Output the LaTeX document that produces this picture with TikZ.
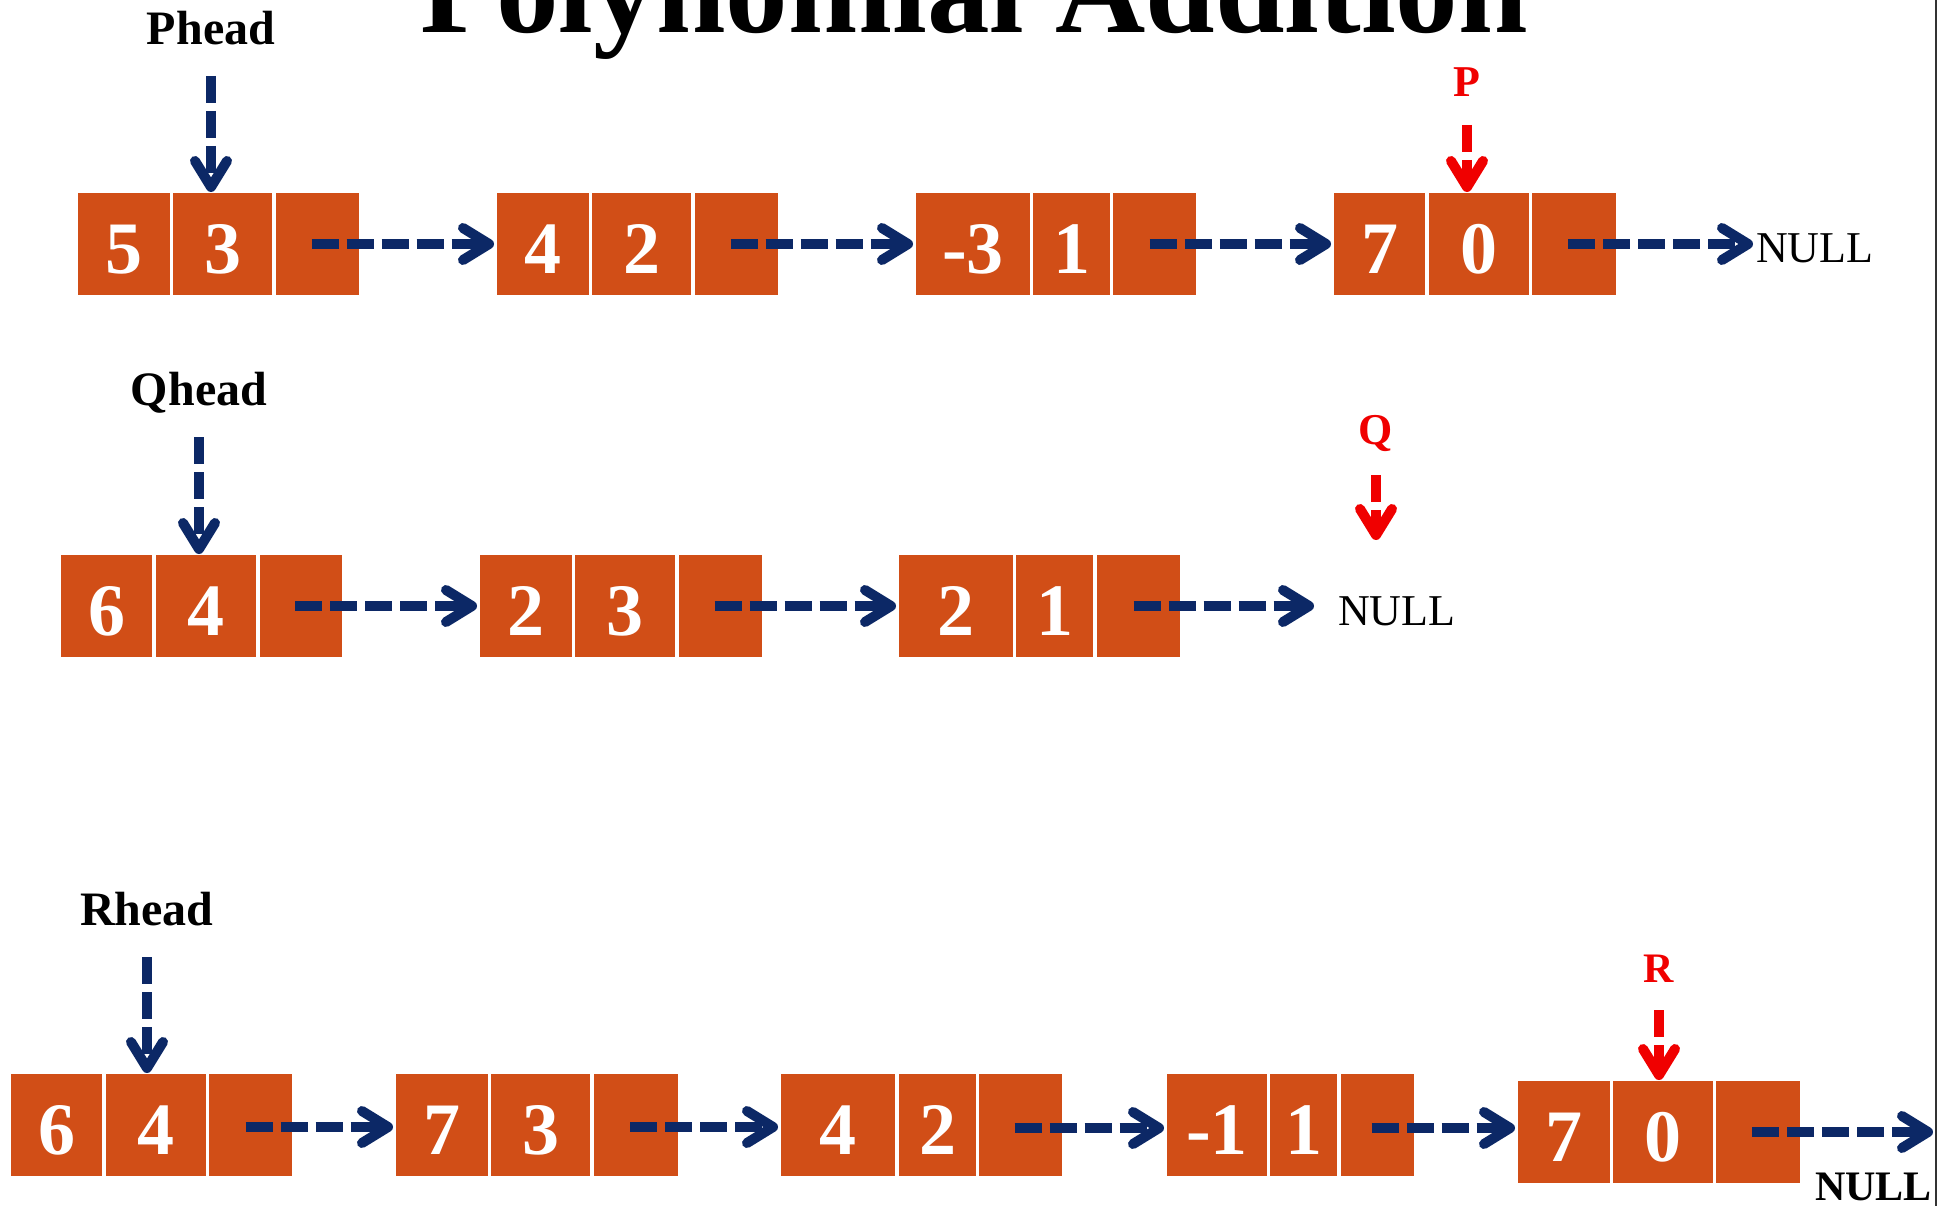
\documentclass[tikz,border=0pt]{standalone}
\usepackage{fontspec}
\setmainfont{Liberation Serif}
\usetikzlibrary{arrows.meta}
\definecolor{cellor}{RGB}{209,78,23}
\definecolor{navy}{RGB}{12,40,102}
\definecolor{ptrred}{RGB}{240,0,0}
\begin{document}
\begin{tikzpicture}[x=1pt,y=-1pt,
  cell/.style={fill=cellor, inner sep=0pt, outer sep=0pt, anchor=north west, text=white,
     font=\fontsize{74}{74}\selectfont\bfseries, text height=80pt, text depth=22pt},
  link/.style={draw=navy, line width=10pt, dash pattern=on 27pt off 8pt,
     -{Straight Barb[length=26pt,width=32pt,round]}, shorten >=3pt},
  redptr/.style={link, draw=ptrred},
  headlbl/.style={inner sep=0pt, anchor=base, font=\fontsize{48}{48}\selectfont\bfseries},
  redlbl/.style={inner sep=0pt, anchor=base, text=ptrred, font=\fontsize{44}{44}\selectfont\bfseries},
  nulllbl/.style={inner sep=0pt, anchor=base west, font=\fontsize{44}{44}\selectfont},
]
\useasboundingbox (0,0) rectangle (1945,1206);
\fill[white] (0,0) rectangle (1945,1206);
\clip (0,0) rectangle (1945,1206);

% title (cut at the top, as in the reference)
\node[inner sep=0pt, anchor=base, font=\fontsize{125}{125}\selectfont\bfseries] (title) at (974,33) {Polynomial Addition};

% right border
\draw[line width=2pt, black!80] (1936,0) -- (1936,1206);

% ---------- row 1 : P ----------
\node[cell,minimum width=92pt]  (a1) at (78,193)  {5};
\node[cell,minimum width=99pt]  (a2) at (173,193) {3};
\node[cell,minimum width=83pt]  (a3) at (276,193) {};
\node[cell,minimum width=92pt]  (b1) at (497,193) {4};
\node[cell,minimum width=99pt]  (b2) at (592,193) {2};
\node[cell,minimum width=83pt]  (b3) at (695,193) {};
\node[cell,minimum width=114pt] (c1) at (916,193) {-3};
\node[cell,minimum width=77pt]  (c2) at (1033,193) {1};
\node[cell,minimum width=83pt]  (c3) at (1113,193) {};
\node[cell,minimum width=91pt]  (d1) at (1334,193) {7};
\node[cell,minimum width=100pt] (d2) at (1429,193) {0};
\node[cell,minimum width=84pt]  (d3) at (1532,193) {};

\node[headlbl] (phead) at (211,45) {Phead};
\node[redlbl] (plab) at (1467,97) {P};
\node[nulllbl] (null1) at (1756,262) {NULL};

\draw[link] ([xshift=-6pt]a3.center) -- (b1.west);
\draw[link] ([xshift=-6pt]b3.center) -- (c1.west);
\draw[link] ([xshift=-5pt]c3.center) -- (d1.west);
\draw[link] ([xshift=-6pt]d3.center) -- (d3.center -| null1.west);
\draw[link, shorten >=1pt] ([yshift=-31pt]phead.base) -- (phead.base |- a2.north);
\draw[redptr, shorten >=1pt] ([yshift=-28pt]plab.base) -- (plab.base |- d2.north);

% ---------- row 2 : Q ----------
\node[cell,minimum width=91pt]  (q1a) at (61,555)  {6};
\node[cell,minimum width=100pt] (q1b) at (156,555) {4};
\node[cell,minimum width=82pt]  (q1c) at (260,555) {};
\node[cell,minimum width=92pt]  (q2a) at (480,555) {2};
\node[cell,minimum width=100pt] (q2b) at (575,555) {3};
\node[cell,minimum width=83pt]  (q2c) at (679,555) {};
\node[cell,minimum width=114pt] (q3a) at (899,555) {2};
\node[cell,minimum width=77pt]  (q3b) at (1016,555) {1};
\node[cell,minimum width=83pt]  (q3c) at (1097,555) {};

\node[headlbl] (qhead) at (199,405) {Qhead};
\node[redlbl] (qlab) at (1376,444) {Q};
\node[nulllbl] (null2) at (1338,625) {NULL};
\coordinate (qend) at (1376,541);

\draw[link] ([xshift=-6pt]q1c.center) -- (q2a.west);
\draw[link] ([xshift=-6pt]q2c.center) -- (q3a.west);
\draw[link, shorten >=24pt] ([xshift=-5pt]q3c.center) -- (q3c.center -| null2.west);
\draw[link, shorten >=1pt] ([yshift=-32pt]qhead.base) -- (qhead.base |- q1b.north);
\draw[redptr, shorten >=1pt] ([yshift=-31pt]qlab.base) -- (qlab.base |- qend);

% ---------- row 3 : R ----------
\node[cell,minimum width=91pt]  (r1a) at (11,1074)  {6};
\node[cell,minimum width=100pt] (r1b) at (106,1074) {4};
\node[cell,minimum width=83pt]  (r1c) at (209,1074) {};
\node[cell,minimum width=92pt]  (r2a) at (396,1074) {7};
\node[cell,minimum width=99pt]  (r2b) at (491,1074) {3};
\node[cell,minimum width=84pt]  (r2c) at (594,1074) {};
\node[cell,minimum width=114pt] (r3a) at (781,1074) {4};
\node[cell,minimum width=77pt]  (r3b) at (899,1074) {2};
\node[cell,minimum width=83pt]  (r3c) at (979,1074) {};
\node[cell,minimum width=100pt] (r4a) at (1167,1074) {-1};
\node[cell,minimum width=67pt]  (r4b) at (1270,1074) {1};
\node[cell,minimum width=73pt]  (r4c) at (1341,1074) {};
\node[cell,minimum width=92pt]  (r5a) at (1518,1081) {7};
\node[cell,minimum width=100pt] (r5b) at (1613,1081) {0};
\node[cell,minimum width=84pt]  (r5c) at (1716,1081) {};

\node[headlbl] (rhead) at (147,925) {Rhead};
\node[redlbl, font=\fontsize{42}{42}\selectfont\bfseries] (rlab) at (1659,982) {R};
\node[nulllbl, font=\fontsize{42}{42}\selectfont\bfseries] (null3) at (1815,1200) {NULL};
\coordinate (rend) at (1936,1131);

\draw[link] ([xshift=-5pt,yshift=-2pt]r1c.center) -- ([yshift=-2pt]r2a.west);
\draw[link] ([xshift=-6pt,yshift=-2pt]r2c.center) -- ([yshift=-2pt]r3a.west);
\draw[link] ([xshift=-6pt,yshift=-3pt]r3c.center) -- ([yshift=-3pt]r4a.west);
\draw[link] ([xshift=-6pt,yshift=-3pt]r4c.center) -- ([yshift=4pt]r5a.west);
\draw[link] ([xshift=-6pt]r5c.center) -- (r5c.center -| rend);
\draw[link, shorten >=1pt] ([yshift=-32pt]rhead.base) -- (rhead.base |- r1b.north);
\draw[redptr, shorten >=1pt] ([yshift=-28pt]rlab.base) -- (rlab.base |- r5b.north);
\end{tikzpicture}
\end{document}
